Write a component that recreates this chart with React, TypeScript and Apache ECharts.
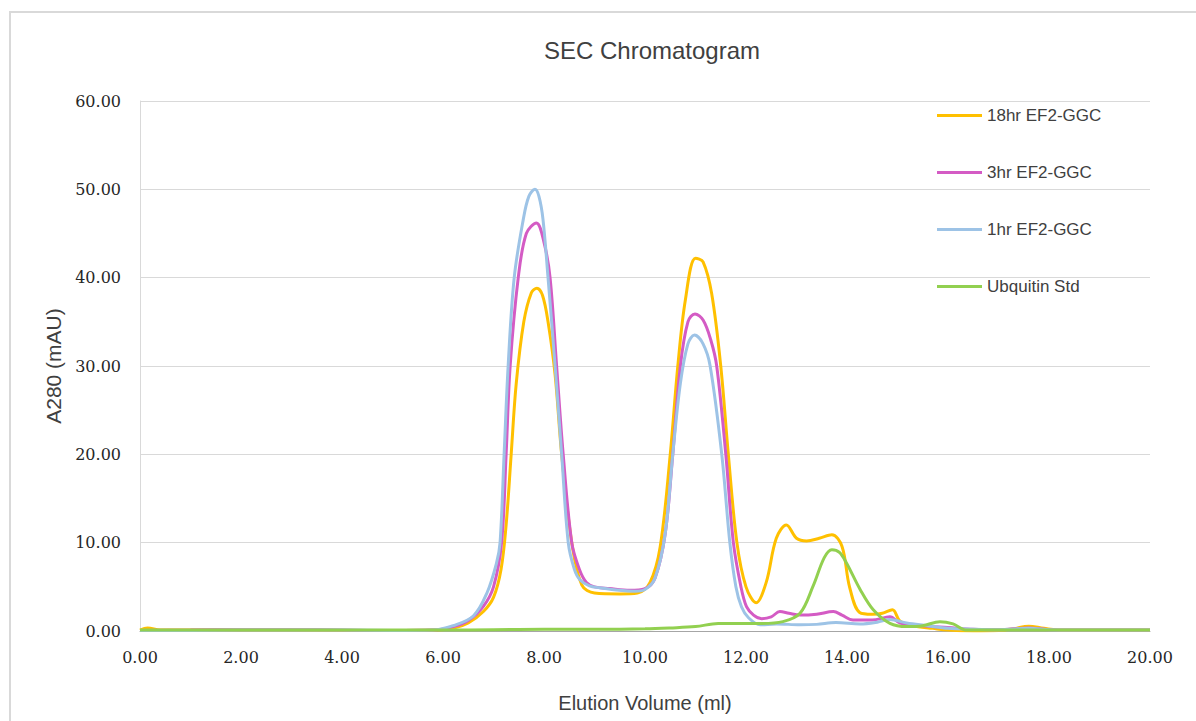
import React, { useEffect, useRef } from "react";
import * as echarts from "echarts";

const seriesNames = ["18hr EF2-GGC", "3hr EF2-GGC", "1hr EF2-GGC", "Ubquitin Std"];
const seriesColors = ["#FFC000", "#D45BC4", "#9DC3E6", "#92D050"];

const x18 = [0, 0.15, 0.4, 1, 2, 3, 4, 5, 5.8, 6.2, 6.5, 6.8, 7.0, 7.15, 7.25, 7.35, 7.45, 7.6, 7.75, 7.86, 7.97, 8.08, 8.22, 8.35, 8.55, 8.75, 9.0, 9.5, 9.85, 10.1, 10.3, 10.5, 10.65, 10.8, 11.0, 11.15, 11.32, 11.5, 11.65, 11.82, 12.0, 12.2, 12.4, 12.6, 12.8, 13.0, 13.2, 13.45, 13.7, 13.9, 14.05, 14.25, 14.5, 14.7, 14.9, 15.05, 15.3, 15.7, 16.0, 16.5, 17.0, 17.3, 17.6, 17.9, 18.3, 19, 20];
const y18 = [0.1, 0.35, 0.1, 0.1, 0.1, 0.1, 0.05, 0.05, 0.1, 0.3, 0.9, 2.2, 3.8, 7, 12, 20, 28, 35, 38.3, 38.8, 38, 35, 29, 20, 10, 5.2, 4.3, 4.2, 4.3, 5.5, 9.5, 20, 30, 37.5, 42.2, 41.8, 38.2, 30, 20, 10, 5, 3.2, 5.5, 10.5, 12.0, 10.5, 10.2, 10.5, 10.9, 9.6, 5, 2.1, 1.9, 2.0, 2.4, 1.1, 0.6, 0.3, 0.1, 0.0, 0.05, 0.25, 0.55, 0.3, 0.1, 0.1, 0.1];

const x3 = [0, 1, 2, 3, 4, 5, 5.8, 6.2, 6.5, 6.8, 7.0, 7.16, 7.25, 7.33, 7.49, 7.65, 7.85, 8.0, 8.12, 8.25, 8.38, 8.55, 8.7, 8.84, 9.0, 9.3, 9.7, 10.0, 10.2, 10.4, 10.55, 10.7, 10.85, 10.99, 11.15, 11.3, 11.42, 11.6, 11.75, 11.9, 12.01, 12.15, 12.31, 12.5, 12.67, 12.85, 13.07, 13.4, 13.73, 13.9, 14.12, 14.5, 14.85, 15.05, 15.5, 16, 16.5, 17, 17.6, 18, 19, 20];
const y3 = [0.05, 0.1, 0.15, 0.15, 0.1, 0.05, 0.1, 0.5, 1.2, 2.8, 5, 10, 20, 30, 40, 45, 46.2, 44, 40, 30, 20, 10, 7, 5.5, 5.0, 4.8, 4.6, 4.8, 6, 11, 20, 30, 35, 35.9, 35.2, 33, 30, 20, 10, 5, 2.75, 1.8, 1.4, 1.6, 2.2, 2.0, 1.8, 1.9, 2.2, 1.8, 1.25, 1.25, 1.6, 0.9, 0.6, 0.4, 0.2, 0.15, 0.35, 0.15, 0.1, 0.1];

const x1 = [0, 1, 2, 3, 4, 5, 5.8, 6.2, 6.6, 6.87, 7.06, 7.13, 7.21, 7.29, 7.41, 7.59, 7.7, 7.82, 7.9, 7.98, 8.08, 8.22, 8.35, 8.48, 8.6, 8.71, 8.9, 9.1, 9.5, 9.8, 10.0, 10.2, 10.4, 10.55, 10.7, 10.85, 10.98, 11.15, 11.29, 11.52, 11.68, 11.8, 11.91, 12.05, 12.28, 12.6, 13.07, 13.4, 13.78, 14.26, 14.6, 14.85, 15.18, 15.6, 16, 16.5, 17, 17.6, 18, 19, 20];
const y1 = [0.05, 0.05, 0.1, 0.1, 0.1, 0.05, 0.1, 0.6, 1.7, 4.3, 7.7, 10, 20, 30, 40, 46.6, 49.2, 50.0, 49.2, 46.6, 40, 30, 20, 10, 7, 5.8, 5.1, 4.9, 4.6, 4.5, 4.7, 6, 11, 20, 28, 32.5, 33.5, 32.5, 30, 20, 10, 5, 2.75, 1.5, 0.7, 0.8, 0.7, 0.75, 0.95, 0.8, 1.0, 1.3, 0.9, 0.6, 0.3, 0.2, 0.15, 0.3, 0.15, 0.1, 0.1];

const xU = [0, 2, 4, 6, 7, 8, 9, 10, 10.5, 11, 11.45, 11.85, 12.3, 12.73, 13.07, 13.33, 13.55, 13.7, 13.85, 13.99, 14.26, 14.52, 14.85, 15.18, 15.5, 15.84, 16.1, 16.37, 16.9, 18, 20];
const yU = [0.1, 0.1, 0.1, 0.1, 0.15, 0.2, 0.2, 0.25, 0.35, 0.5, 0.85, 0.85, 0.85, 1.06, 2.0, 5.1, 8.3, 9.2, 8.9, 7.7, 4.7, 2.4, 0.87, 0.5, 0.6, 1.06, 0.8, 0.1, 0.1, 0.1, 0.1];

const xTickLabels = ["0.00", "2.00", "4.00", "6.00", "8.00", "10.00", "12.00", "14.00", "16.00", "18.00", "20.00"];

function pairs(xs: number[], ys: number[]) {
  return xs.map((x, i) => [x, ys[i]]);
}

export default function App() {
  const ref = useRef<HTMLDivElement>(null);
  useEffect(() => {
    document.body.style.margin = "0";
    const chart = echarts.init(ref.current!, null, { renderer: "svg" });
    const allData = [pairs(x18, y18), pairs(x3, y3), pairs(x1, y1), pairs(xU, yU)];
    chart.setOption({
      animation: false,
      backgroundColor: "#ffffff",
      title: {
        text: "SEC Chromatogram",
        left: 647,
        textAlign: "center",
        top: 33,
        textStyle: { fontFamily: "Liberation Sans", fontSize: 24, fontWeight: "normal", color: "#404040" },
      },
      graphic: [
        {
          type: "rect",
          shape: { x: 10, y: 12, width: 1200, height: 720 },
          style: { fill: "none", stroke: "#d9d9d9", lineWidth: 2 },
          silent: true,
        },
      ],
      legend: {
        orient: "vertical",
        left: 937,
        top: 107,
        padding: 0,
        itemWidth: 45,
        itemHeight: 14,
        itemGap: 40,
        icon: "path://M0,0L45,0L45,3L0,3Z",
        textStyle: { fontFamily: "Liberation Sans", fontSize: 17, color: "#404040" },
        data: seriesNames,
      },
      grid: { left: 140, right: 46, top: 101, bottom: 90 },
      xAxis: {
        type: "value",
        min: 0,
        max: 20,
        interval: 2,
        name: "Elution Volume (ml)",
        nameLocation: "middle",
        nameGap: 62,
        nameTextStyle: { fontFamily: "Liberation Sans", fontSize: 20, color: "#404040" },
        axisLine: { show: true, lineStyle: { color: "#a6a6a6", width: 1 } },
        axisTick: { show: false },
        splitLine: { show: false },
        axisLabel: {
          margin: 18,
          fontFamily: "DejaVu Serif",
          fontSize: 16,
          color: "#262626",
          formatter: (v: number) => xTickLabels[Math.round(v / 2)] ?? v.toFixed(2),
        },
      },
      yAxis: {
        type: "value",
        min: 0,
        max: 60,
        interval: 10,
        name: "A280 (mAU)",
        nameLocation: "middle",
        nameGap: 72,
        nameRotate: 90,
        nameTextStyle: { fontFamily: "Liberation Sans", fontSize: 21, color: "#404040" },
        axisLine: { show: true, lineStyle: { color: "#d9d9d9", width: 1 } },
        axisTick: { show: false },
        splitLine: { show: true, lineStyle: { color: "#d9d9d9", width: 1 } },
        axisLabel: {
          margin: 19,
          fontFamily: "DejaVu Serif",
          fontSize: 16,
          color: "#262626",
          formatter: (v: number) => v.toFixed(2),
        },
      },
      series: seriesNames.map((name, i) => ({
        name,
        type: "line",
        data: allData[i],
        symbol: "none",
        smooth: 0.35,
        lineStyle: { color: seriesColors[i], width: 3 },
        itemStyle: { color: seriesColors[i] },
      })),
    });
    return () => chart.dispose();
  }, []);
  return <div ref={ref} style={{ width: 1196, height: 721 }} />;
}
